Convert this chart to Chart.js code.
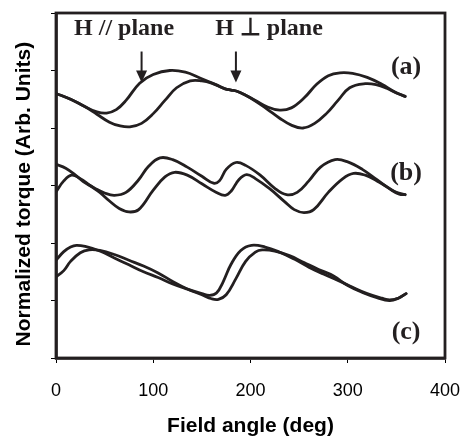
<!DOCTYPE html>
<html>
<head>
<meta charset="utf-8">
<script src="https://cdn.jsdelivr.net/npm/chart.js@4.4.1/dist/chart.umd.min.js"></script>
<style>
  html, body { margin: 0; padding: 0; background: #fff; }
</style>
</head>
<body>
<canvas id="torqueChart" width="462" height="437"></canvas>
<script>
// field angle (deg) and normalized torque
const angleA1 = [0, 15, 30, 42, 52, 62, 72, 86, 100, 117, 133, 148, 165, 174, 180, 186, 195, 205, 217, 230, 242, 255, 268, 280, 292, 305, 320, 335, 348, 359];
const torqueA1 = [4.60, 4.50, 4.37, 4.28, 4.26, 4.32, 4.48, 4.78, 4.93, 5.00, 4.97, 4.87, 4.75, 4.68, 4.66, 4.64, 4.57, 4.48, 4.37, 4.31, 4.35, 4.52, 4.76, 4.91, 4.96, 4.95, 4.88, 4.76, 4.63, 4.55];
const angleA2 = [0, 15, 30, 42, 55, 65, 76, 88, 100, 112, 124, 138, 150, 160, 174, 180, 186, 195, 205, 217, 230, 242, 254, 266, 278, 290, 302, 318, 330, 340, 350, 359];
const torqueA2 = [4.60, 4.50, 4.37, 4.24, 4.10, 4.04, 4.02, 4.08, 4.25, 4.48, 4.70, 4.82, 4.82, 4.78, 4.68, 4.66, 4.64, 4.57, 4.47, 4.33, 4.17, 4.05, 4.00, 4.08, 4.25, 4.48, 4.70, 4.77, 4.75, 4.69, 4.61, 4.55];

const angleB1 = [0, 10, 20, 28, 40, 50, 60, 72, 85, 95, 107, 120, 135, 150, 162, 168, 175, 185, 195, 210, 225, 237, 248, 260, 272, 287, 300, 315, 330, 345, 353, 359];
const torqueB1 = [3.37, 3.30, 3.18, 3.07, 2.95, 2.87, 2.83, 2.88, 3.10, 3.33, 3.48, 3.45, 3.32, 3.16, 3.04, 3.08, 3.28, 3.40, 3.35, 3.18, 2.95, 2.84, 2.88, 3.08, 3.32, 3.45, 3.41, 3.28, 3.10, 2.92, 2.85, 2.84];
const angleB2 = [0, 8, 16, 25, 35, 45, 55, 65, 75, 85, 100, 112, 122, 135, 150, 165, 174, 180, 188, 196, 205, 220, 235, 245, 255, 265, 280, 295, 306, 318, 330, 340, 350, 359];
const torqueB2 = [2.89, 3.08, 3.18, 3.12, 3.00, 2.88, 2.73, 2.60, 2.54, 2.58, 2.92, 3.15, 3.23, 3.18, 3.03, 2.88, 2.83, 2.90, 3.10, 3.19, 3.12, 2.94, 2.72, 2.58, 2.53, 2.58, 2.88, 3.12, 3.21, 3.18, 3.08, 2.98, 2.88, 2.84];

const angleC1 = [0, 8, 15, 21, 30, 45, 60, 75, 90, 105, 120, 135, 150, 158, 165, 172, 180, 190, 201, 215, 230, 245, 260, 275, 290, 305, 320, 335, 343, 352, 360];
const torqueC1 = [1.70, 1.85, 1.93, 1.96, 1.94, 1.86, 1.74, 1.62, 1.50, 1.40, 1.29, 1.20, 1.12, 1.09, 1.13, 1.33, 1.63, 1.87, 1.96, 1.93, 1.84, 1.72, 1.58, 1.46, 1.35, 1.23, 1.12, 1.04, 1.01, 1.04, 1.12];
const angleC2 = [0, 8, 15, 25, 34, 45, 60, 75, 90, 105, 120, 135, 150, 160, 167, 175, 185, 195, 205, 212, 225, 240, 255, 270, 285, 300, 315, 330, 343, 352, 360];
const torqueC2 = [1.41, 1.52, 1.68, 1.83, 1.88, 1.87, 1.80, 1.70, 1.60, 1.48, 1.33, 1.20, 1.10, 1.03, 1.02, 1.10, 1.38, 1.68, 1.84, 1.88, 1.86, 1.78, 1.66, 1.54, 1.43, 1.26, 1.14, 1.05, 1.00, 1.04, 1.12];

const xTickValues = [0, 100, 200, 300, 400];
const panelNames = ['(a)', '(b)', '(c)'];

const sans = "'Liberation Sans', Arial, sans-serif";
const serif = "'Liberation Serif', 'Times New Roman', serif";
const ink = '#231f20';

function trace(angles, torques) {
    return {
        data: angles.map((a, i) => ({ x: a, y: torques[i] })),
        borderColor: ink,
        borderWidth: 2.8,
        pointRadius: 0,
        fill: false,
        tension: 0.4,
        borderJoinStyle: 'round',
        borderCapStyle: 'round'
    };
}

// frame, arrows, panel labels and rotated y title
const decorations = {
    id: 'decorations',
    afterDatasetsDraw(chart) {
        const { ctx, scales: { x, y } } = chart;
        ctx.save();
        ctx.strokeStyle = ink;
        ctx.lineWidth = 2.8;
        ctx.strokeRect(x.left, y.top, x.right - x.left, y.bottom - y.top);

        ctx.fillStyle = ink;
        ctx.font = 'bold 24px ' + serif;
        ctx.textAlign = 'center';
        ctx.textBaseline = 'middle';
        ctx.fillText('H // plane', x.getPixelForValue(70), y.getPixelForValue(5.72));
        ctx.fillText('H \u22A5 plane', x.getPixelForValue(219), y.getPixelForValue(5.72));

        [88, 185].forEach(a => {
            const px = x.getPixelForValue(a);
            const top = y.getPixelForValue(5.33);
            const tip = y.getPixelForValue(4.79);
            ctx.lineWidth = 2;
            ctx.beginPath();
            ctx.moveTo(px, top);
            ctx.lineTo(px, tip - 8);
            ctx.stroke();
            ctx.beginPath();
            ctx.moveTo(px - 5.5, tip - 12);
            ctx.lineTo(px + 5.5, tip - 12);
            ctx.lineTo(px, tip);
            ctx.closePath();
            ctx.fill();
        });

        ctx.font = 'bold 26px ' + serif;
        const labelTorque = [5.05, 3.22, 0.45];
        panelNames.forEach((name, i) => {
            ctx.fillText(name, x.getPixelForValue(360), y.getPixelForValue(labelTorque[i]));
        });

        ctx.font = 'bold 21px ' + sans;
        ctx.fillStyle = '#000';
        ctx.translate(24, y.getPixelForValue(2.85));
        ctx.rotate(-Math.PI / 2);
        ctx.fillText('Normalized torque (Arb. Units)', 0, 0);
        ctx.restore();
    }
};

new Chart(document.getElementById('torqueChart'), {
    type: 'line',
    data: {
        datasets: [
            trace(angleA1, torqueA1),
            trace(angleA2, torqueA2),
            trace(angleB1, torqueB1),
            trace(angleB2, torqueB2),
            trace(angleC1, torqueC1),
            trace(angleC2, torqueC2)
        ]
    },
    options: {
        responsive: false,
        animation: false,
        layout: { padding: { top: 13, right: 17, left: 51, bottom: 0 } },
        plugins: { legend: { display: false }, tooltip: { enabled: false } },
        scales: {
            x: {
                type: 'linear',
                min: 0,
                max: 400,
                afterBuildTicks: s => { s.ticks = xTickValues.map(v => ({ value: v })); },
                ticks: { padding: 17, color: '#000', font: { family: sans, size: 18 } },
                grid: { drawOnChartArea: false, tickLength: 5, color: '#000' },
                border: { color: ink, width: 2.8 },
                title: {
                    display: true,
                    text: 'Field angle (deg)',
                    color: '#000',
                    font: { family: sans, size: 21, weight: 'bold', lineHeight: 1.0 },
                    padding: { top: 0, bottom: 0 }
                },
                afterFit: s => {
                    s.height = 79;
                    s.paddingLeft = 0;
                    s.paddingRight = 0;
                }
            },
            y: {
                min: 0,
                max: 6,
                ticks: { stepSize: 1, display: false },
                grid: { drawOnChartArea: false, tickLength: 5, color: '#000' },
                border: { color: ink, width: 2.8 }
            }
        }
    },
    plugins: [decorations]
});
</script>
</body>
</html>
